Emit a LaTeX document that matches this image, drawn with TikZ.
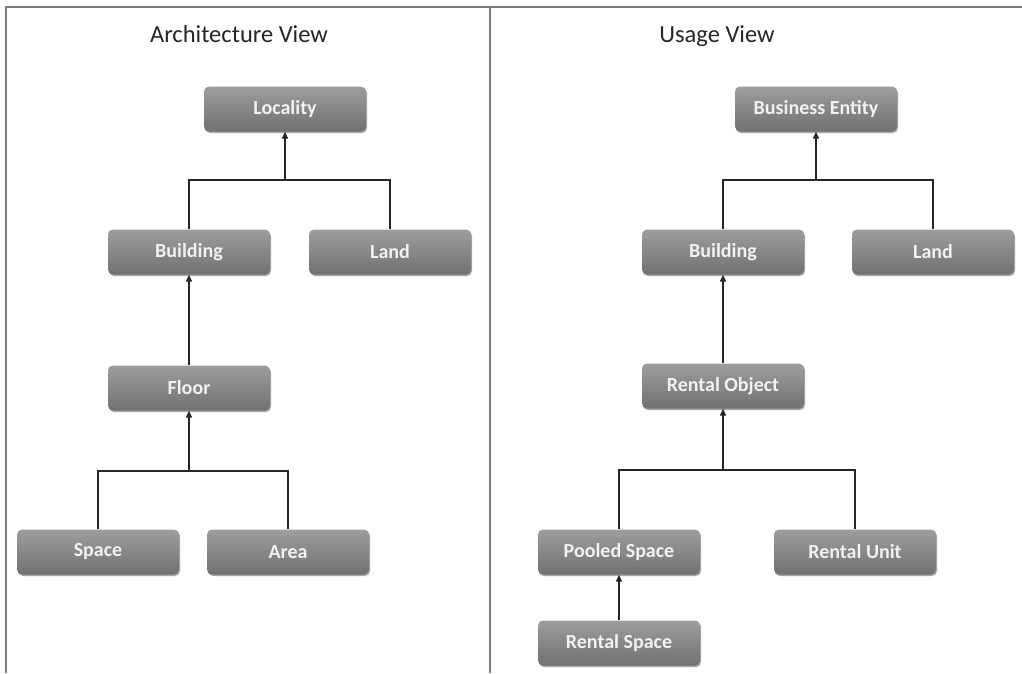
\documentclass[tikz,border=0pt]{standalone}
\usepackage{fontspec}
\setmainfont{Carlito}
\usetikzlibrary{arrows.meta,shadows}
\definecolor{boxtop}{RGB}{158,158,158}
\definecolor{boxbot}{RGB}{112,112,112}
\definecolor{boxtext}{RGB}{242,242,242}
\definecolor{framegray}{RGB}{125,125,125}
\tikzset{
  ent/.style={rectangle, rounded corners=5pt, minimum width=162pt, minimum height=45pt,
    top color=boxtop, bottom color=boxbot, draw=none, text=boxtext,
    font=\fontsize{20}{24}\selectfont\bfseries, inner sep=0pt,
    drop shadow={shadow xshift=1pt, shadow yshift=-1.5pt, opacity=0.35, fill=black}},
  ttl/.style={font=\fontsize{24.5}{28}\selectfont, text=black!85, inner sep=0pt, anchor=base},
  link/.style={draw=black!85, line width=1.4pt},
  arr/.style={link, -{Triangle[length=7pt,width=6pt]}},
  frameline/.style={draw=framegray, line width=2.2pt}
}
\begin{document}
\begin{tikzpicture}[x=1pt,y=-1pt]
\useasboundingbox (0,0) rectangle (1022,673);
\fill[white] (0,0) rectangle (1022,673);
% frame
\draw[frameline] (6,673) -- (6,7) -- (1022,7);
\draw[frameline] (490,7) -- (490,673);
% titles
\node[ttl] (t1) at (239,42) {Architecture View};
\node[ttl] (t2) at (717,42) {Usage View};
% left tree
\node[ent] (loc) at (285,109) {Locality};
\node[ent] (bl) at (189,252) {Building};
\node[ent] (ll) at (390,252) {Land};
\node[ent] (fl) at (189,388) {Floor};
\node[ent] (sp) at (98,552) {Space};
\node[ent] (ar) at (288,552) {Area};
% right tree
\node[ent] (be) at (816,109) {Business Entity};
\node[ent] (br) at (723,252) {Building};
\node[ent] (lr) at (933,252) {Land};
\node[ent] (ro) at (723,386) {Rental Object};
\node[ent] (ps) at (619,552) {Pooled Space};
\node[ent] (ru) at (855,552) {Rental Unit};
\node[ent] (rs) at (619,643) {Rental Space};
% buses
\coordinate (b1) at (285,180);
\coordinate (b2) at (189,471);
\coordinate (b3) at (816,180);
\coordinate (b4) at (723,470);
% left connectors
\draw[link] (bl.north) |- (b1) -| (ll.north);
\draw[arr] (b1) -- (loc.south);
\draw[arr] (fl.north) -- (bl.south);
\draw[link] (sp.north) |- (b2) -| (ar.north);
\draw[arr] (b2) -- (fl.south);
% right connectors
\draw[link] (br.north) |- (b3) -| (lr.north);
\draw[arr] (b3) -- (be.south);
\draw[arr] (ro.north) -- (br.south);
\draw[link] (ps.north) |- (b4) -| (ru.north);
\draw[arr] (b4) -- (ro.south);
\draw[arr] (rs.north) -- (ps.south);
\end{tikzpicture}
\end{document}
